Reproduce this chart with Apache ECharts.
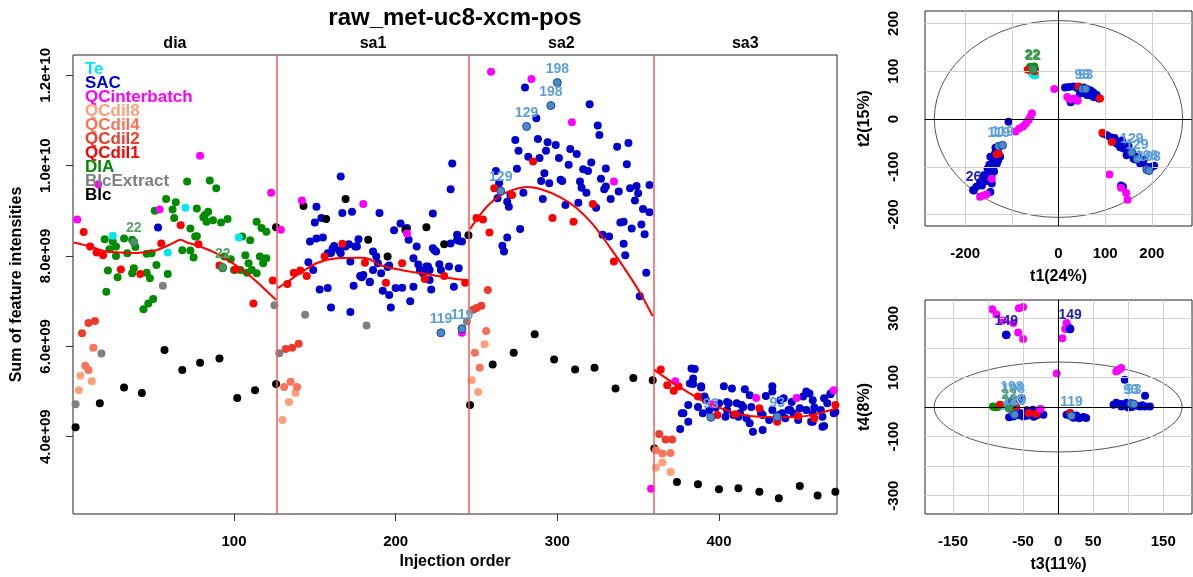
<!DOCTYPE html>
<html><head><meta charset="utf-8">
<script src="https://cdn.jsdelivr.net/npm/echarts@6/dist/echarts.min.js"></script>
<style>html,body{margin:0;padding:0;background:#fff}#c{width:1193px;height:577px}</style>
</head><body><div id="c"></div>
<script>
// ---------- text ----------
const titleText = 'raw_met-uc8-xcm-pos';
const batchNames = ['dia', 'sa1', 'sa2', 'sa3'];
const batchBreaks = [126.5, 245.5, 359.5];
const legendNames = ['Te', 'SAC', 'QCinterbatch', 'QCdil8', 'QCdil4', 'QCdil2', 'QCdil1', 'DIA', 'BlcExtract', 'Blc'];
const pcaAxisNames = ['t1(24%)', 't2(15%)', 't3(11%)', 't4(8%)'];

// ---------- main plot axes (intensity in units of 1e9) ----------
const injRange = [0.4, 473];
const intensityRange = [2.29, 12.45];
const xTicks = [100, 200, 300, 400];
const yTicks = [4, 6, 8, 10, 12];

// ---------- main plot values: [injection order, sum of intensities / 1e9] ----------
const mainBlc = [[2,4.21],[17,4.74],[32,5.09],[43,4.97],[57,5.92],[68,5.48],[79,5.64],[91,5.73],[102,4.86],[113,5.03],[126,5.17],[126,8.64],[143,9.11],[157,8.82],[169,9.26],[183,8.36],[195,7.99],[206,8.58],[219,8.64],[230,8.26],[245,8.46],[246,4.70],[260,5.60],[273,5.86],[286,6.27],[298,5.71],[311,5.49],[323,5.53],[336,5.07],[347,5.30],[359,5.25],[360,3.74],[374,3.00],[387,2.95],[400,2.84],[412,2.86],[425,2.78],[437,2.64],[450,2.91],[461,2.70],[472,2.78]];
const mainBlcExtract = [[2,4.72],[18,5.84],[56,7.34],[125,6.91],[128,5.85],[144,6.70],[182,6.46],[244,6.55]];
const mainTe = [[25,8.45],[59,8.08],[70,9.07],[103,8.41]];
const mainQCinterbatch = [[3,8.81],[16,9.59],[54,9.03],[79,10.22],[123,9.40],[129,8.58],[142,9.23],[180,9.15],[207,8.50],[241,6.30],[259,12.08],[284,11.92],[309,10.96],[335,9.65],[358,2.85],[373,5.23],[396,4.72],[423,4.86],[448,4.86],[471,5.03]];
const mainQCdil1 = [[7,8.53],[11,8.21],[15,8.08],[19,8.02],[30,7.70],[42,7.60],[55,8.28],[67,8.68],[78,8.26],[91,7.79],[101,7.70],[112,6.95],[124,7.46],
  [133,7.38],[137,7.63],[141,7.68],[145,7.56],[156,7.99],[167,8.27],[181,7.85],[194,7.41],[204,7.84],[218,7.49],[230,7.56],[243,7.41],
  [250,8.84],[254,8.81],[258,8.52],[261,9.50],[272,9.35],[285,10.09],[297,8.84],[310,8.76],[322,9.15],[335,7.88],
  [364,5.49],[368,5.14],[372,5.02],[375,5.11],[387,4.89],[399,4.48],[410,4.50],[425,4.63],[436,4.33],[449,4.46],[459,4.41],[472,4.70]];
const mainQCdil2 = [[6,6.29],[10,6.52],[14,6.56],[132,5.94],[136,5.97],[140,6.06],[248,6.81],[250,6.85],[253,6.90],[257,7.25],[363,4.06],[367,3.94],[371,3.94]];
const mainQCdil4 = [[13,5.97],[8,5.57],[10,5.48],[135,5.22],[131,5.10],[139,5.10],[256,6.34],[249,5.86],[252,5.53],[361,3.70],[365,3.63],[370,3.64]];
const mainQCdil8 = [[5,5.35],[12,5.23],[4,5.03],[138,4.97],[134,4.77],[130,4.37],[255,6.05],[247,5.25],[251,4.99],[361,3.32],[365,3.43],[370,3.22]];
const mainDIA = [[71,9.65],[85,9.67],[89,9.50],[58,9.26],[64,9.19],[62,9.03],[51,9.00],[77,9.05],[84,8.98],[81,8.86],[87,8.79],[96,8.82],[63,8.84],[73,8.61],[76,8.43],[114,8.76],[117,8.62],[120,8.54],[20,8.37],[25,8.32],[32,8.39],[37,8.36],[39,8.20],[23,8.15],[27,8.21],[34,8.06],[27,8.00],[46,8.05],[49,8.06],[22,7.68],[28,7.53],[38,7.73],[37,7.62],[46,7.63],[48,7.51],[52,7.80],[59,7.60],[21,7.21],[50,7.05],[47,6.95],[44,6.82],[68,8.13],[73,8.12],[75,7.97],[77,8.44],[82,8.91],[83,8.76],[92,8.74],[105,8.43],[110,8.35],[94,7.99],[98,7.93],[100,7.69],[107,8.02],[109,7.84],[108,7.63],[114,7.62],[116,7.99],[120,7.95],[118,7.84],[93,7.73],[104,7.69],[111,7.69]];
const mainSAC = [[53,8.63],
  [151,9.09],[166,9.76],[167,8.95],[173,8.98],[190,8.95],[154,8.84],[150,8.74],[147,8.32],[151,8.39],[155,8.41],[162,8.22],[160,8.07],[165,8.12],[166,8.06],[171,8.26],[177,8.37],[176,8.21],[186,8.10],[188,7.99],[172,7.88],[146,7.86],[149,7.69],[180,7.58],[186,7.69],[179,7.53],[184,7.43],[153,7.26],[158,7.29],[174,7.34],[189,7.84],[195,7.76],[191,7.62],[196,7.14],[200,7.29],[204,7.30],[197,6.86],[209,7.00],[211,7.32],[160,6.86],[172,6.76],[199,8.57],[203,8.72],[207,8.62],[208,8.36],[213,8.21],[211,7.95],[214,7.81],[215,7.68],[219,7.77],[221,7.69],[217,7.62],[223,8.17],[223,8.94],[225,8.10],[227,7.82],[233,7.77],[228,7.69],[222,7.26],[221,7.47],[236,7.32],[239,7.73],[234,8.28],[238,8.36],[241,8.32],[235,10.05],[234,9.48],[178,7.56],[184,7.42],[192,7.23],[224,8.13],[158,8.06],[161,8.17],[169,8.21],[175,8.21],[196,7.79],[220,7.77],[238,8.47],[239,8.34],
  [280,11.73],[320,11.36],[287,11.05],[325,10.89],[326,10.68],[274,10.57],[288,10.59],[294,10.52],[299,10.46],[276,10.33],[293,10.33],[308,10.37],[312,10.26],[337,10.42],[344,10.50],[282,10.20],[289,10.17],[301,10.17],[321,10.07],[307,10.02],[343,10.03],[275,9.93],[316,9.92],[319,9.88],[330,9.94],[292,9.83],[262,9.88],[302,9.69],[303,9.66],[290,9.66],[295,9.61],[314,9.65],[327,9.71],[315,9.51],[318,9.40],[329,9.48],[330,9.54],[338,9.43],[345,9.50],[349,9.55],[357,9.57],[350,9.39],[348,9.23],[333,9.26],[279,9.40],[271,9.35],[263,9.28],[269,9.20],[270,9.09],[291,9.26],[305,9.13],[313,9.18],[324,9.07],[353,9.04],[357,8.97],[339,8.74],[341,8.76],[346,8.61],[352,8.70],[354,8.48],[328,8.47],[332,8.43],[341,8.27],[342,8.02],[277,8.60],[269,8.41],[266,8.23],[267,8.10],[355,7.63],[351,7.11],[264,9.61],
  [385,5.50],[383,5.51],[384,5.29],[382,5.18],[389,5.12],[403,5.12],[408,5.07],[416,5.05],[419,4.92],[429,4.90],[433,5.12],[433,5.00],[440,4.85],[445,4.77],[452,4.89],[454,5.00],[456,4.96],[458,4.81],[465,4.85],[469,4.96],[467,4.74],[392,4.81],[400,4.74],[406,4.74],[411,4.74],[415,4.66],[405,4.59],[413,4.52],[417,4.41],[419,4.30],[421,4.11],[427,4.15],[426,4.52],[433,4.59],[439,4.52],[443,4.59],[446,4.52],[454,4.59],[458,4.52],[463,4.59],[458,4.33],[464,4.22],[471,4.52],[381,4.70],[378,4.52],[381,4.33],[376,4.17],[387,4.66],[390,4.52],[404,4.44],[409,4.48],[391,4.89],[394,4.59],[398,4.65],[420,4.66],[427,4.48],[431,4.37],[438,4.81],[444,4.59],[450,4.63],[441,4.41],[449,4.37],[459,4.65],[457,4.33],[465,4.24],[464,4.44],[469,4.94],[472,4.55],[437,4.48],[377,4.52],[405,4.77],[414,4.70],[412,4.44],[389,5.09],[384,5.17]];
const mainLabeledSAC = [[228,6.30,'119'],[241,6.39,'119'],[265,9.44,'129'],[281,10.87,'129'],[296,11.33,'198'],[300,11.84,'198'],[395,4.43,'93'],[436,4.44,'93']];
const mainLabeledDIA = [[38,8.31,'22'],[93,7.75,'22']];

// loess trend per batch
const loessDia = [[1,8.30],[11,8.21],[21,8.10],[40,8.07],[52,8.13],[62,8.28],[67,8.36],[71,8.30],[79,8.21],[89,8.06],[100,7.82],[110,7.56],[118,7.30],[126,7.03]];
const loessSa1 = [[127,7.29],[133,7.43],[141,7.62],[151,7.84],[164,7.95],[178,7.96],[184,7.93],[190,7.80],[205,7.68],[219,7.60],[234,7.51],[245,7.46]];
const loessSa2 = [[246,8.60],[252,8.90],[258,9.15],[265,9.35],[273,9.47],[281,9.53],[289,9.49],[302,9.30],[312,9.06],[322,8.70],[333,8.17],[343,7.65],[352,7.14],[359,6.67]];
const loessSa3 = [[360,5.48],[372,5.18],[382,4.96],[392,4.75],[403,4.61],[413,4.50],[425,4.44],[438,4.43],[450,4.44],[462,4.52],[473,4.63]];

// ---------- PCA t1/t2 ----------
const pca12Range = {x: [-286, 286], y: [-224, 226]};
const pca12TickX = [-200, -100, 0, 100, 200];
const pca12LabelX = [-200, 0, 100, 200];
const pca12TickY = [-200, -100, 0, 100, 200];
const pca12Ellipse = [[0, 0, 266, 206]];
const pca12DIA = [[-61,109],[-50,103],[-57,98],[-55,106],[-52,110],[-58,102]];
const pca12Te = [[-55,93],[-50,91],[-53,95]];
const pca12QCdil1 = [[-66,103],[-51,100],[43,68],[89,43],[94,-29],[114,-48],[-132,-74],[-128,-72]];
const pca12QCinterbatch = [[-9,63],[19,46],[25,41],[41,38],[34,43],[-57,12],[-60,5],[-64,-2],[-70,-10],[-76,-16],[-84,-20],[-92,-26],[-143,-125],[-161,-160],[-168,-163],[-154,-158],[109,-116],[134,-144],[145,-155],[148,-169]];
const pca12SAC = [[14,66],[22,67],[32,68],[40,65],[47,62],[54,66],[60,63],[68,60],[74,56],[78,52],[82,50],[86,43],[46,53],[55,55],[61,50],[70,49],[75,46],[80,48],[25,40],[26,35],[30,38],
  [96,-31],[104,-34],[111,-38],[118,-45],[125,-52],[132,-59],[136,-45],[139,-62],[146,-76],[150,-57],[154,-69],[161,-83],[168,-79],[175,-93],[182,-86],[189,-100],[200,-100],[205,-98],[134,-139],[138,-142],[120,-40],[128,-48],[145,-60],[158,-74],[165,-85],[172,-80],
  [-107,-6],[-125,-79],[-132,-93],[-139,-100],[-146,-107],[-150,-114],[-154,-121],[-161,-128],[-168,-132],[-176,-142],[-146,-79],[-136,-72],[-129,-86],[-143,-135],[-146,-153],[-164,-139],[-140,-90],[-134,-82],[-148,-96],[-138,-110],[-152,-104],[-155,-130],[-160,-118],[-144,-120],[-130,-65],[-135,-60]];
const pca12LabeledSAC = [[51,63,'93'],[58,63,'93'],[-128,-57,'119'],[-120,-55,'119'],[157,-70,'129'],[168,-84,'129'],[189,-106,'198'],[194,-108,'198']];
const pca12LabeledDIA = [[-56,106,'22'],[-54,104,'22']];
const pca12LabeledDark = [[-182,-149,'26']];

// ---------- PCA t3/t4 ----------
const pca34Range = {x: [-190, 191], y: [-362, 362]};
const pca34TickX = [-150, -100, -50, 0, 50, 100, 150];
const pca34LabelX = [-150, -50, 0, 50, 150];
const pca34TickY = [-300, -200, -100, 0, 100, 200, 300];
const pca34LabelY = [-300, -100, 100, 300];
const pca34Ellipse = [[0, 0, 177, 152]];
const pca34DIA = [[-93,2],[-86,0],[-79,5],[-90,-1],[-83,3]];
const pca34Te = [[-80,4]];
const pca34QCdil1 = [[-83,8],[-31,-23],[-60,0],[17,-20],[-42,-20]];
const pca34QCinterbatch = [[-94,331],[-88,313],[-79,293],[-64,284],[-57,252],[-50,230],[-56,334],[-50,338],[12,284],[14,273],[10,264],[6,233],[-2,113],[83,120],[88,128],[90,132],[85,124],[-25,-6]];
const pca34SAC = [[95,92],[79,8],[83,14],[90,10],[98,14],[103,6],[107,8],[112,4],[117,2],[124,2],[131,2],[124,38],[90,2],[105,0],[96,4],[120,6],[100,-2],
  [12,-26],[19,-32],[26,-29],[36,-34],[40,-37],[17,-20],[22,-36],[30,-38],
  [-64,-32],[-50,-32],[-40,-26],[-31,-29],[-21,-26],[-60,-9],[-45,-11],[-36,-9],[-52,30],[-55,-20],[-45,-30],[-35,-33],[-28,-24],[-70,-35],[-58,-28],[-48,-22]];
const pca34LabeledSAC = [[-66,20,'198'],[-64,14,'198'],[-64,-22,'129'],[-62,-26,'129'],[104,12,'93'],[108,10,'93'],[19,-30,'119']];
const pca34LabeledDIA = [[-70,-4,'22']];
const pca34LabeledDark = [[-74,244,'149'],[17,264,'149']];

// ---------- styling ----------
const FONT = '"Liberation Sans", Arial, Helvetica, sans-serif';
const groupColors = {Te:'#00e8ee', SAC:'#0000cd', QCinterbatch:'#ff00ff', QCdil8:'#ffa07a', QCdil4:'#f8735a', QCdil2:'#ec3d2c', QCdil1:'#ff0000', DIA:'#008b00', BlcExtract:'#7f7f7f', Blc:'#000000'};
const gMain = {left: 73, top: 55, width: 764, height: 459};
const gP12 = {left: 925, top: 11, width: 267, height: 215};
const gP34 = {left: 925, top: 300, width: 267, height: 214};

const chart = echarts.init(document.getElementById('c'), null, {renderer: 'canvas'});

function fmtSci(v) {
  return (v * 1e9).toExponential(1).replace(/e\+(\d)$/, 'e+0$1');
}
function pts(name, data, idx, color, z) {
  return {type: 'scatter', name, xAxisIndex: idx, yAxisIndex: idx, data, symbolSize: 8,
    itemStyle: {color, opacity: 1}, z: z || 3, silent: false};
}
function labeled(name, data, idx, fill, border, labelColor, z) {
  return {type: 'scatter', name, xAxisIndex: idx, yAxisIndex: idx, data, symbolSize: 8,
    itemStyle: {color: fill, borderColor: border, borderWidth: 1, opacity: 1}, z: z || 6,
    label: {show: true, position: 'top', distance: 2, formatter: p => p.value[2],
      color: labelColor, fontWeight: 'bold', fontSize: 14, fontFamily: FONT}};
}
function loess(data) {
  return {type: 'line', name: 'loess', xAxisIndex: 0, yAxisIndex: 0, data, smooth: 0.3, showSymbol: false,
    symbol: 'none', lineStyle: {color: '#ff0000', width: 2}, z: 5, silent: true};
}
function ellipse(data, idx) {
  return {type: 'custom', name: 'ellipse' + idx, xAxisIndex: idx, yAxisIndex: idx, data, z: 2, silent: true,
    renderItem: (params, api) => {
      const c = api.coord([api.value(0), api.value(1)]);
      const s = api.size([api.value(2), api.value(3)]);
      const rx = s[0], ry = s[1];
      const d = `M${c[0]-rx} ${c[1]} A${rx} ${ry} 0 1 0 ${c[0]+rx} ${c[1]} A${rx} ${ry} 0 1 0 ${c[0]-rx} ${c[1]} Z`;
      return {type: 'path', shape: {pathData: d}, style: {fill: 'none', stroke: '#555', lineWidth: 1}};
    }};
}
function gridLines(idx, xs, ys) {
  const lines = [];
  xs.filter(v => v !== 0).forEach(v => lines.push({xAxis: v}));
  ys.filter(v => v !== 0).forEach(v => lines.push({yAxis: v}));
  return [
    {type: 'scatter', name: 'grid' + idx, xAxisIndex: idx, yAxisIndex: idx, data: [], z: 1, silent: true,
      markLine: {silent: true, symbol: 'none', animation: false, label: {show: false},
        lineStyle: {color: '#d0d0d0', width: 1, type: 'solid'}, data: lines}},
    {type: 'scatter', name: 'zero' + idx, xAxisIndex: idx, yAxisIndex: idx, data: [], z: 2, silent: true,
      markLine: {silent: true, symbol: 'none', animation: false, label: {show: false},
        lineStyle: {color: '#000', width: 1, type: 'solid'}, data: [{xAxis: 0}, {yAxis: 0}]}}
  ];
}
const edges = [injRange[0], ...batchBreaks, injRange[1]];
const batchSeries = {
  type: 'scatter', name: 'batches', xAxisIndex: 0, yAxisIndex: 0, data: [], z: 2, silent: true,
  markLine: {silent: true, symbol: 'none', animation: false, label: {show: false},
    lineStyle: {color: '#f25c5c', width: 1.5, type: 'solid'}, data: batchBreaks.map(b => ({xAxis: b}))},
  markArea: {silent: true, itemStyle: {color: 'rgba(0,0,0,0)'},
    label: {show: true, position: 'top', distance: 3, color: '#000', fontWeight: 'bold', fontSize: 16, fontFamily: FONT},
    data: batchNames.map((n, i) => [{xAxis: edges[i], name: n}, {xAxis: edges[i + 1]}])}
};

const axisText = {fontWeight: 'bold', fontSize: 15, color: '#000', fontFamily: FONT};
const nameText = {fontWeight: 'bold', fontSize: 16, color: '#000', fontFamily: FONT};
function xAx(idx, range, ticks, labels, name, gap) {
  return {gridIndex: idx, type: 'value', min: range[0], max: range[1], name, nameLocation: 'middle', nameGap: gap,
    nameTextStyle: nameText, axisLine: {show: false}, splitLine: {show: false},
    axisTick: {show: true, inside: false, length: 7, customValues: ticks, lineStyle: {color: '#333'}},
    axisLabel: Object.assign({customValues: labels, margin: 20}, axisText)};
}
function yAx(idx, range, ticks, labels, name, gap, margin, fmt) {
  const lab = Object.assign({customValues: labels, margin, rotate: 90}, axisText);
  if (fmt) lab.formatter = fmt;
  return {gridIndex: idx, type: 'value', min: range[0], max: range[1], name, nameLocation: 'middle', nameGap: gap,
    nameTextStyle: nameText, axisLine: {show: false}, splitLine: {show: false},
    axisTick: {show: true, inside: false, length: 7, customValues: ticks, lineStyle: {color: '#333'}},
    axisLabel: lab};
}
const gridStyle = {show: true, borderColor: '#222', borderWidth: 1, backgroundColor: 'rgba(0,0,0,0)', containLabel: false, outerBoundsMode: 'none'};

const series = [
  batchSeries,
  pts('DIA', mainDIA, 0, groupColors.DIA),
  pts('SAC', mainSAC, 0, groupColors.SAC),
  pts('Blc', mainBlc, 0, groupColors.Blc),
  pts('BlcExtract', mainBlcExtract, 0, groupColors.BlcExtract),
  pts('Te', mainTe, 0, groupColors.Te),
  pts('QCdil8', mainQCdil8, 0, groupColors.QCdil8),
  pts('QCdil4', mainQCdil4, 0, groupColors.QCdil4),
  pts('QCdil2', mainQCdil2, 0, groupColors.QCdil2),
  pts('QCdil1', mainQCdil1, 0, groupColors.QCdil1),
  pts('QCinterbatch', mainQCinterbatch, 0, groupColors.QCinterbatch),
  labeled('SAC', mainLabeledSAC, 0, '#4a8bc0', '#1f3fb0', '#5b9fd8'),
  labeled('DIA', mainLabeledDIA, 0, '#4f9262', '#3c7d50', '#5aa36c'),
  loess(loessDia), loess(loessSa1), loess(loessSa2), loess(loessSa3),
  ...gridLines(1, pca12TickX, pca12TickY),
  ellipse(pca12Ellipse, 1),
  pts('SAC', pca12SAC, 1, groupColors.SAC),
  pts('DIA', pca12DIA, 1, groupColors.DIA),
  pts('Te', pca12Te, 1, groupColors.Te),
  pts('QCdil1', pca12QCdil1, 1, groupColors.QCdil1),
  pts('QCinterbatch', pca12QCinterbatch, 1, groupColors.QCinterbatch),
  labeled('SAC', pca12LabeledSAC, 1, '#4a8bc0', '#1f3fb0', '#5b9fd8'),
  labeled('DIA', pca12LabeledDIA, 1, '#3f8f4f', '#2e7d3e', '#3f9a4f'),
  labeled('SAC', pca12LabeledDark, 1, groupColors.SAC, groupColors.SAC, '#2222b0'),
  ...gridLines(2, pca34TickX, pca34TickY),
  ellipse(pca34Ellipse, 2),
  pts('SAC', pca34SAC, 2, groupColors.SAC),
  pts('DIA', pca34DIA, 2, groupColors.DIA),
  pts('Te', pca34Te, 2, groupColors.Te),
  pts('QCdil1', pca34QCdil1, 2, groupColors.QCdil1),
  pts('QCinterbatch', pca34QCinterbatch, 2, groupColors.QCinterbatch),
  labeled('SAC', pca34LabeledSAC, 2, '#4a8bc0', '#1f3fb0', '#5b9fd8'),
  labeled('DIA', pca34LabeledDIA, 2, '#3f8f4f', '#2e7d3e', '#5aa36c'),
  labeled('SAC', pca34LabeledDark, 2, groupColors.SAC, groupColors.SAC, '#2222b0')
];

chart.setOption({
  animation: false,
  backgroundColor: '#fff',
  textStyle: {fontFamily: FONT},
  graphic: [{type: 'text', x: gMain.left + gMain.width / 2, y: 18,
    style: {text: titleText, textAlign: 'center', textVerticalAlign: 'middle', fill: '#000', font: 'bold 24px ' + FONT}}],
  legend: {
    data: legendNames.map(n => ({name: n, textStyle: {color: groupColors[n]}})),
    orient: 'vertical', left: 80, top: 61, padding: 0, itemGap: -3, itemWidth: 0, itemHeight: 0,
    selectedMode: true, inactiveColor: '#ccc',
    textStyle: {fontWeight: 'bold', fontSize: 17, lineHeight: 14, fontFamily: FONT}
  },
  grid: [Object.assign({}, gridStyle, gMain), Object.assign({}, gridStyle, gP12), Object.assign({}, gridStyle, gP34)],
  xAxis: [
    xAx(0, injRange, xTicks, xTicks, 'Injection order', 40),
    xAx(1, pca12Range.x, pca12TickX, pca12LabelX, pcaAxisNames[0], 43),
    xAx(2, pca34Range.x, pca34TickX, pca34LabelX, pcaAxisNames[2], 43)
  ],
  yAxis: [
    yAx(0, intensityRange, yTicks, yTicks, 'Sum of feature intensities', 48, 20, fmtSci),
    yAx(1, pca12Range.y, pca12TickY, pca12TickY, pcaAxisNames[1], 52, 24),
    yAx(2, pca34Range.y, pca34TickY, pca34LabelY, pcaAxisNames[3], 52, 24)
  ],
  series
});
</script></body></html>
